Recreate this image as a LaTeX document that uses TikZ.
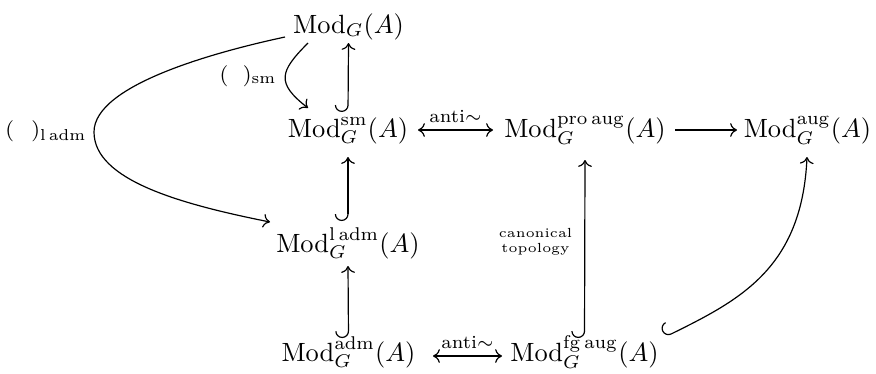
\documentclass[tikz,border=0pt]{standalone}
\usetikzlibrary{arrows.meta,calc}
\begin{document}
\begin{tikzpicture}[x=0.379pt,y=-0.379pt,
  obj/.style={anchor=base, inner sep=0pt},
  tip/.tip={To[length=2.6pt,width=5.2pt]},
  ar/.style={-tip, line width=0.45pt},
  dar/.style={tip-tip, line width=0.45pt},
  hookar/.style={{Hooks[right,length=2.6pt,width=10pt]}-tip, line width=0.45pt},
  lbl/.style={font=\footnotesize, inner sep=0pt},
  alb/.style={font=\scriptsize, inner sep=0pt},
  tinylbl/.style={font=\fontsize{5}{5.6}\selectfont, align=center, inner sep=0pt}]
\useasboundingbox (0,0) rectangle (876,373);

\node[obj] (top)  at (348.5,33)  {$\mathrm{Mod}_G(A)$};
\node[obj] (sm)   at (348,137)   {$\mathrm{Mod}_G^{\mathrm{sm}}(A)$};
\node[obj] (pro)  at (585,137)   {$\mathrm{Mod}_G^{\mathrm{pro\,aug}}(A)$};
\node[obj] (aug)  at (807.5,137) {$\mathrm{Mod}_G^{\mathrm{aug}}(A)$};
\node[obj] (ladm) at (348,252)   {$\mathrm{Mod}_G^{\mathrm{l\,adm}}(A)$};
\node[obj] (adm)  at (348.5,361) {$\mathrm{Mod}_G^{\mathrm{adm}}(A)$};
\node[obj] (fg)   at (584.5,361) {$\mathrm{Mod}_G^{\mathrm{fg\,aug}}(A)$};

% labels of curved maps
\node[lbl] (lsm)   at (248,76)  {$(\hspace{5.5pt})_{\mathrm{sm}}$};
\node[lbl] (lladm) at (46,131)  {$(\hspace{6.5pt})_{\mathrm{l\,adm}}$};

% vertical inclusions
\draw[hookar] ($(sm.base)+(0,-25)$) -- ($(top.base)+(0,10)$);
\draw[hookar] ($(ladm.base)+(0,-31)$) -- ($(sm.base)+(0,20)$);
\draw[hookar] ($(adm.base)+(0,-23)$) -- ($(ladm.base)+(0,14)$);
\draw[hookar] ($(fg.base)+(0,-23)$) -- ($(pro.base)+(0,23)$)
  node[tinylbl, pos=0.54, left=4.5pt] {canonical\\topology};

% horizontal maps
\draw[dar] ($(sm.base)+(70,-7)$) -- ($(pro.base)+(-92,-7)$)
  node[alb, midway, above=2.5pt] {anti$\sim$};
\draw[ar] ($(pro.base)+(90,-7)$) -- ($(aug.base)+(-70.5,-7)$);
\draw[dar] ($(adm.base)+(84.5,-5)$) -- ($(fg.base)+(-82.5,-5)$)
  node[alb, midway, above=2.5pt] {anti$\sim$};

% curved maps
\draw[ar] ($(top.base)+(-40.5,10)$) to[out=225,in=142,looseness=1.6] ($(sm.base)+(-40,-29)$);
\coordinate (bend) at (94,132);
\draw[ar] ($(top.base)+(-63.5,4)$) .. controls (215,52) and (94,85) .. (bend)
  .. controls (94,180) and (180,204) .. ($(ladm.base)+(-78,-30)$);
\draw[hookar] ($(fg.base)+(80.5,-24)$) .. controls (740,300) and (802,268) .. ($(aug.base)+(-0.5,20)$);
\end{tikzpicture}
\end{document}
